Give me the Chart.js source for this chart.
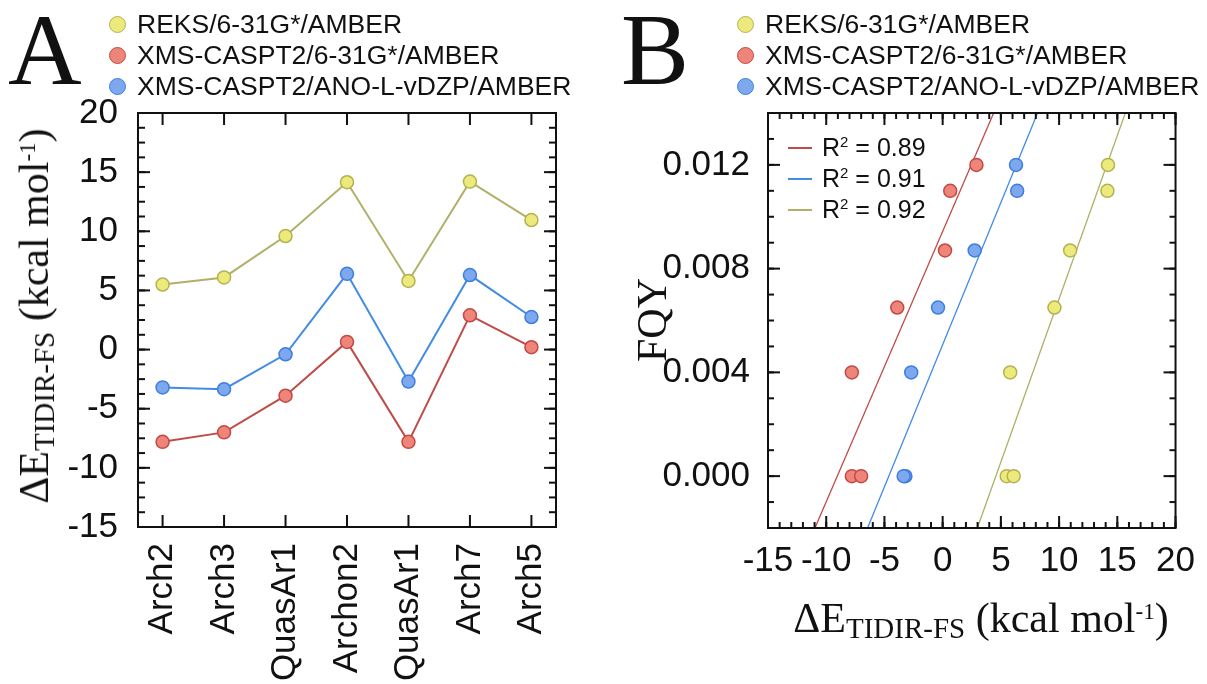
<!DOCTYPE html>
<html>
<head>
<meta charset="utf-8">
<script src="https://cdn.jsdelivr.net/npm/chart.js@4.4.0/dist/chart.umd.min.js"></script>
<style>
  body { margin: 0; background: #fff; width: 1207px; height: 684px; position: relative; overflow: hidden;
         font-family: "Liberation Sans", Arial, sans-serif; color: #111; }
  .panel { position: absolute; top: 0; height: 684px; }
  .letter { position: absolute; top: -1px; font-family: "Liberation Serif", "Times New Roman", serif; font-size: 102px; line-height: 1; }
  .legend { position: absolute; font-size: 26.5px; }
  .legend .row { height: 31px; line-height: 31px; display: flex; align-items: center; white-space: nowrap; }
  .legend .dot { box-sizing: border-box; width: 17px; height: 17px; border-radius: 50%; border: 1.5px solid; margin-right: 11px; }
  .fitlegend { position: absolute; left: 788px; top: 132px; font-size: 25px; }
  .fitlegend .row { height: 31px; line-height: 31px; display: flex; align-items: center; white-space: nowrap; }
  .fitlegend .seg { width: 24px; height: 2px; margin-right: 10px; }
  .fitlegend sup { font-size: 15px; line-height: 0; vertical-align: 0.6em; }
  .title { position: absolute; font-family: "Liberation Serif", "Times New Roman", serif; font-size: 42px; line-height: 42px;
           white-space: nowrap; transform: translate(-50%, -50%); }
  .title.rot { transform: translate(-50%, -50%) rotate(-90deg); }
  .title sub { font-size: 29px; line-height: 0; vertical-align: -0.22em; }
  .title sup { font-size: 23px; line-height: 0; vertical-align: 0.55em; }
</style>
</head>
<body>
<div class="letter" style="left:8px">A</div>
<div class="letter" style="left:621px">B</div>

<div class="panel" style="left:0;width:600px"><canvas id="chartA"></canvas></div>
<div class="panel" style="left:600px;width:607px"><canvas id="chartB"></canvas></div>

<div class="legend" id="legendA" style="left:109px;top:9px"></div>
<div class="legend" id="legendB" style="left:737px;top:9px"></div>
<div class="fitlegend" id="fitLegend"></div>

<div class="title rot" style="left:34px;top:316px">ΔE<sub>TIDIR-FS</sub> (kcal mol<sup>-1</sup>)</div>
<div class="title" style="left:981px;top:618px">ΔE<sub>TIDIR-FS</sub> (kcal mol<sup>-1</sup>)</div>
<div class="title rot" style="left:652px;top:320px">FQY</div>

<script>
// data
const categories = ["Arch2", "Arch3", "QuasAr1", "Archon2", "QuasAr1", "Arch7", "Arch5"];
const reks631 = [5.5, 6.1, 9.6, 14.15, 5.8, 14.2, 10.95];        // REKS/6-31G*/AMBER
const xms631 = [-7.8, -7.0, -3.9, 0.65, -7.8, 2.9, 0.2];          // XMS-CASPT2/6-31G*/AMBER
const xmsAno = [-3.2, -3.35, -0.4, 6.4, -2.7, 6.3, 2.75];         // XMS-CASPT2/ANO-L-vDZP/AMBER
const fqy = [0, 0, 0.0065, 0.011, 0.004, 0.012, 0.0087];
const fqyTicks = [0, 0.004, 0.008, 0.012];
const seriesNames = ["REKS/6-31G*/AMBER", "XMS-CASPT2/6-31G*/AMBER", "XMS-CASPT2/ANO-L-vDZP/AMBER"];

// linear fits (end points where they leave the frame)
const fitX631 = [-10.97, 4.38];
const fitXAno = [-6.45, 8.15];
const fitXReks = [2.98, 15.69];
const fitY = [-0.002, 0.014];
const r2 = [0.89, 0.91, 0.92]; // red, blue, yellow

const colors = {
  yellow: { fill: "rgb(236,234,125)", border: "rgb(180,178,78)", line: "rgb(176,176,104)" },
  red:    { fill: "rgb(238,133,122)", border: "rgb(196,72,68)",  line: "rgb(192,76,72)" },
  blue:   { fill: "rgb(125,168,238)", border: "rgb(62,126,224)", line: "rgb(66,140,228)" }
};
const seriesColors = [colors.yellow, colors.red, colors.blue];

const sans = "'Liberation Sans', Arial, sans-serif";
const tickFont = { family: sans, size: 35 };

// draws the closed frame with inward major / minor ticks
const framePlugin = {
  id: "frame",
  afterDatasetsDraw(chart, args, opts) {
    const { ctx, chartArea: { left, right, top, bottom }, scales: { x, y } } = chart;
    ctx.save();
    ctx.strokeStyle = "#111";
    ctx.lineWidth = 2;
    const seg = (x1, y1, x2, y2) => { ctx.beginPath(); ctx.moveTo(x1, y1); ctx.lineTo(x2, y2); ctx.stroke(); };
    const xTicks = (v, len) => { const p = x.getPixelForValue(v); seg(p, bottom, p, bottom - len); seg(p, top, p, top + len); };
    const yTicks = (v, len) => { const p = y.getPixelForValue(v); seg(left, p, left + len, p); seg(right, p, right - len, p); };
    const minors = (scale, step, fn) => {
      if (!step) return;
      const n = Math.round((scale.max - scale.min) / step);
      for (let i = 0; i <= n; i++) fn(scale.min + i * step, opts.minor);
    };
    minors(x, opts.xMinor, xTicks);
    minors(y, opts.yMinor, yTicks);
    x.ticks.forEach(t => xTicks(t.value, opts.major));
    y.ticks.forEach(t => yTicks(t.value, opts.major));
    ctx.strokeRect(left, top, right - left, bottom - top);
    ctx.restore();
  }
};

// ---------- panel A ----------
const chartA = new Chart(document.getElementById("chartA"), {
  type: "line",
  data: {
    datasets: [reks631, xms631, xmsAno].map((vals, i) => ({
      label: seriesNames[i],
      data: vals.map((v, k) => ({ x: k, y: v })),
      borderColor: seriesColors[i].line,
      borderWidth: 2,
      pointBackgroundColor: seriesColors[i].fill,
      pointBorderColor: seriesColors[i].border,
      pointBorderWidth: 1.5,
      pointRadius: 6.5,
      tension: 0
    }))
  },
  options: {
    responsive: true,
    maintainAspectRatio: false,
    animation: false,
    layout: { padding: { left: 0, top: 113, right: 44, bottom: 0 } },
    plugins: {
      legend: { display: false },
      tooltip: { enabled: false },
      frame: { major: 12, minor: 7, yMinor: 1.25 }
    },
    scales: {
      x: {
        type: "linear", min: -0.4, max: 6.4,
        grid: { display: false, drawTicks: false }, border: { display: false },
        afterFit: s => { s.height = 157; },
        ticks: {
          stepSize: 1, includeBounds: false, autoSkip: false,
          minRotation: 90, maxRotation: 90, padding: 16,
          color: "#111", font: tickFont,
          callback: v => categories[v]
        }
      },
      y: {
        min: -15, max: 20,
        grid: { display: false, drawTicks: false }, border: { display: false },
        afterFit: s => { s.width = 138; },
        ticks: { stepSize: 5, padding: 20, color: "#111", font: tickFont }
      }
    }
  },
  plugins: [framePlugin]
});

// ---------- panel B ----------
const scatterSets = [reks631, xms631, xmsAno].map((vals, i) => ({
  label: seriesNames[i],
  data: vals.map((v, k) => ({ x: v, y: fqy[k] })),
  backgroundColor: seriesColors[i].fill,
  borderColor: seriesColors[i].border,
  borderWidth: 1.5,
  pointRadius: 6.5,
  order: 1
}));
const fitSets = [[fitX631, colors.red], [fitXAno, colors.blue], [fitXReks, colors.yellow]].map(([xs, c], i) => ({
  label: "R2 = " + r2[i],
  data: xs.map((v, k) => ({ x: v, y: fitY[k] })),
  showLine: true,
  borderColor: c.line,
  borderWidth: 1.3,
  pointRadius: 0,
  order: 2
}));

const chartB = new Chart(document.getElementById("chartB"), {
  type: "scatter",
  data: { datasets: [...scatterSets, ...fitSets] },
  options: {
    responsive: true,
    maintainAspectRatio: false,
    animation: false,
    layout: { padding: { left: 0, top: 113, right: 21, bottom: 0 } },
    plugins: {
      legend: { display: false },
      tooltip: { enabled: false },
      frame: { major: 12, minor: 6, xMinor: 1, yMinor: 0.001 }
    },
    scales: {
      x: {
        min: -15, max: 20,
        grid: { display: false, drawTicks: false }, border: { display: false },
        afterFit: s => { s.height = 156; },
        ticks: { stepSize: 5, autoSkip: false, maxRotation: 0, padding: 12, color: "#111", font: tickFont }
      },
      y: {
        min: -0.002, max: 0.014,
        grid: { display: false, drawTicks: false }, border: { display: false },
        afterFit: s => { s.width = 168; },
        afterBuildTicks: s => { s.ticks = fqyTicks.map(v => ({ value: v })); },
        ticks: { padding: 18, color: "#111", font: tickFont, callback: v => v.toFixed(3) }
      }
    }
  },
  plugins: [framePlugin]
});

// html legends built from the datasets
function buildLegend(el, datasets) {
  datasets.forEach(ds => {
    const row = document.createElement("div");
    row.className = "row";
    const dot = document.createElement("span");
    dot.className = "dot";
    dot.style.background = ds.pointBackgroundColor || ds.backgroundColor;
    dot.style.borderColor = ds.pointBorderColor || ds.borderColor;
    row.appendChild(dot);
    row.appendChild(document.createTextNode(ds.label));
    el.appendChild(row);
  });
}
buildLegend(document.getElementById("legendA"), chartA.data.datasets);
buildLegend(document.getElementById("legendB"), scatterSets);

const fitEl = document.getElementById("fitLegend");
fitSets.forEach((ds, i) => {
  const row = document.createElement("div");
  row.className = "row";
  row.innerHTML = '<span class="seg" style="background:' + ds.borderColor + '"></span>' +
                  '<span>R<sup>2</sup> = ' + r2[i].toFixed(2) + '</span>';
  fitEl.appendChild(row);
});
</script>
</body>
</html>
